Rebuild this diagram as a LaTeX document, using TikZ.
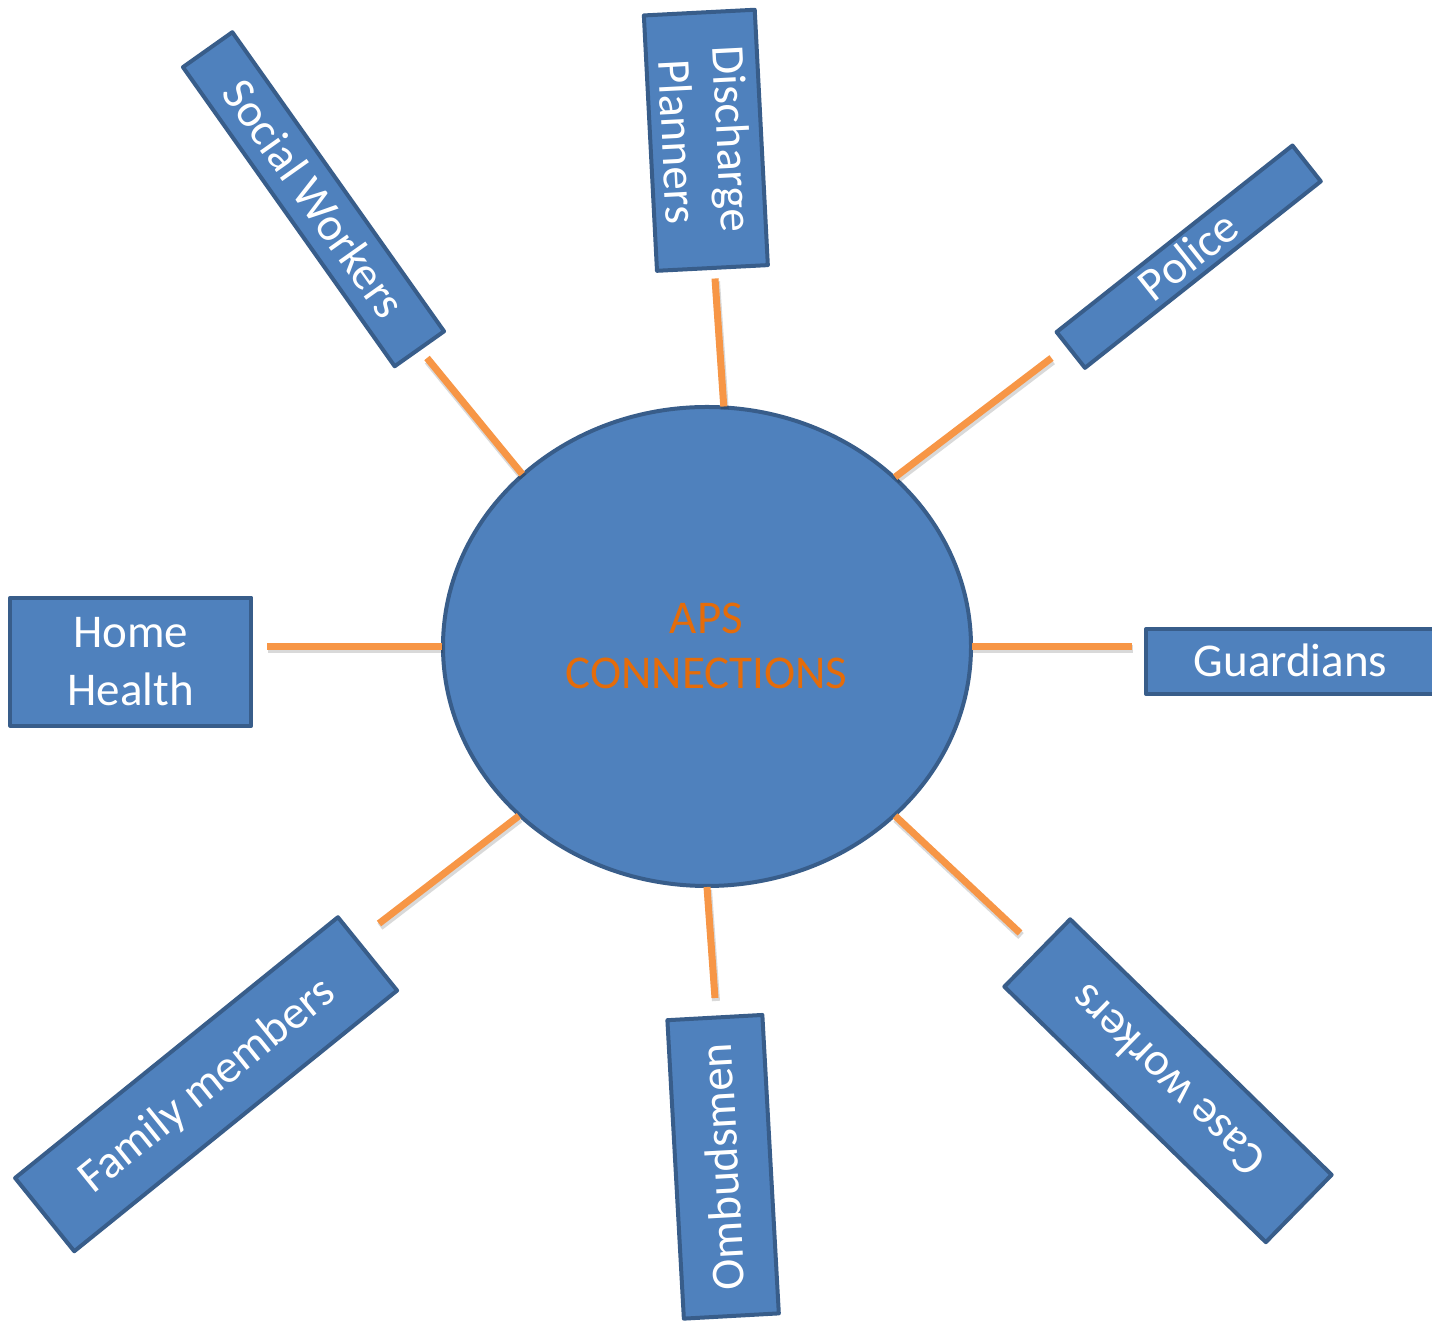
\documentclass[tikz,border=0pt]{standalone}
\usepackage{fontspec}
\setmainfont{Carlito}
\usetikzlibrary{shapes.geometric}
\definecolor{boxfill}{HTML}{4F81BD}
\definecolor{boxline}{HTML}{385D8A}
\definecolor{linkorange}{HTML}{F79646}
\definecolor{apsorange}{HTML}{E46C0A}
\begin{document}
\begin{tikzpicture}[x=1pt,y=1pt,
  box/.style={draw=boxline, fill=boxfill, line width=4pt, line join=round,
    inner sep=0pt, outer sep=0pt, text=white, align=center,
    font=\fontsize{47}{55}\selectfont},
  oneline/.style={text height=30pt, text depth=0pt},
  link/.style={draw=linkorange, line width=7pt,
    preaction={draw=black, draw opacity=0.15, line width=8pt,
      transform canvas={shift={(1pt,-3pt)}}}}]
\path[fill=white, use as bounding box] (0,0) rectangle (1432,1322);

% central ellipse
\node[ellipse, draw=boxline, fill=boxfill, line width=4pt, inner sep=0pt, outer sep=1pt,
      minimum width=528pt, minimum height=479pt] (aps) at (707,675.5) {};

% free ends of the connectors
\coordinate (swE) at (427,964);
\coordinate (dpE) at (715,1043.5);
\coordinate (poE) at (1051.5,964);
\coordinate (guE) at (1132,675.5);
\coordinate (cwE) at (1020,389);
\coordinate (omE) at (715,324);
\coordinate (fmE) at (379,398.5);
\coordinate (hhE) at (267,675.5);

% connectors
\draw[link] (aps.137.5) -- (swE);
\draw[link] (aps.86.4) -- (dpE);
\draw[link] (aps.42.26) -- (poE);
\draw[link] (aps.0) -- (guE);
\draw[link] (aps.-42.2) -- (cwE);
\draw[link] (aps.-90) -- (omE);
\draw[link] (aps.222.35) -- (fmE);
\draw[link] (aps.180) -- (hhE);

\node[text=apsorange, align=center, inner sep=0pt, font=\fontsize{47}{55}\selectfont]
      (apstext) at (706.5,676.5) {APS\\CONNECTIONS};

% outer boxes
\node[box, oneline, rotate=-54.71, minimum width=366.5pt, minimum height=60.5pt]
      (sw) at (313.5,1122.75) {Social Workers};
\node[box, rotate=-87.06, minimum width=255.7pt, minimum height=111pt]
      (dp) at (705.85,1181.7) {Discharge\\Planners};
\node[box, oneline, rotate=38.34, minimum width=300.7pt, minimum height=45.7pt]
      (po) at (1188.7,1065.3) {Police};
\node[box, oneline, minimum width=289pt, minimum height=64.7pt]
      (gu) at (1290.5,660.35) {Guardians};
\node[box, oneline, rotate=135.66, minimum width=365.6pt, minimum height=94.2pt]
      (cw) at (1168,241.25) {Case workers};
\node[box, oneline, rotate=93.16, minimum width=298.9pt, minimum height=95.1pt]
      (om) at (723.1,155.2) {Ombudsmen};
\node[box, oneline, rotate=38.93, minimum width=415pt, minimum height=94.2pt]
      (fm) at (206.1,237.75) {Family members};
\node[box, minimum width=241pt, minimum height=128pt, font=\fontsize{47}{58}\selectfont]
      (hh) at (130.8,660.3) {Home\\Health};
\end{tikzpicture}
\end{document}
